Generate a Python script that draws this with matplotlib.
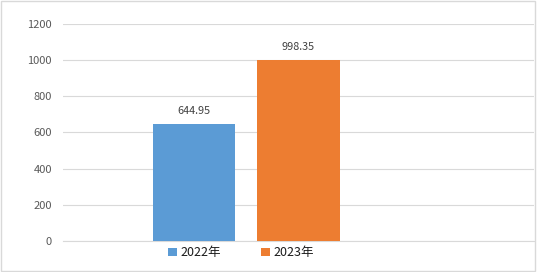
import matplotlib
matplotlib.use("Agg")
import matplotlib.pyplot as plt
from matplotlib.patches import Rectangle
import numpy as np

plt.rcParams['font.family'] = ['Noto Sans CJK SC', 'DejaVu Sans']

# data
series = ['2022年', '2023年']
values = [644.95, 998.35]
colors = ['#5B9BD5', '#ED7D31']
y_ticks = [0, 200, 400, 600, 800, 1000, 1200]

fig = plt.figure(figsize=(5.37, 2.72), dpi=100)
ax = fig.add_axes([63 / 537, 31 / 272, 471 / 537, 217 / 272])

x = np.arange(len(series))
for i, (name, v, c) in enumerate(zip(series, values, colors)):
    ax.bar(x[i], v, width=0.79, color=c, label=name, zorder=3)
    ax.text(x[i], v + 75, f'{v:.2f}', ha='center', va='center',
            fontsize=7.8, color='#404040')

ax.set_xlim(-1.254, 3.254)
ax.set_ylim(0, 1200)
ax.set_yticks(y_ticks)
ax.set_yticklabels([str(t) for t in y_ticks], fontsize=8, color='#595959')
ax.set_xticks([])
ax.tick_params(axis='y', length=0, pad=8)
ax.grid(axis='y', color='#d9d9d9', linewidth=0.8, zorder=0)
for s in ['top', 'right', 'left']:
    ax.spines[s].set_visible(False)
ax.spines['bottom'].set_color('#d9d9d9')
ax.spines['bottom'].set_linewidth(0.8)

leg = fig.legend(loc='center', bbox_to_anchor=(0.449, 0.07), ncol=2,
                 frameon=False, fontsize=9, handlelength=0.7, handleheight=0.7,
                 handletextpad=0.3, columnspacing=3.2)
for t in leg.get_texts():
    t.set_color('#1a1a1a')

# chart border
fig.patches.append(Rectangle((0.002, 0.004), 0.995, 0.992, transform=fig.transFigure,
                             fill=False, edgecolor='#d9d9d9', linewidth=1))

fig.savefig('out.png', dpi=100)
